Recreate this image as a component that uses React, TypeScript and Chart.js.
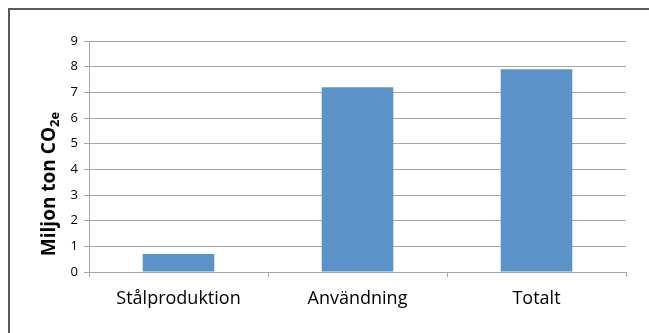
import React, { useEffect, useRef } from "react";
import { Chart, registerables } from "chart.js";

Chart.register(...registerables);

const categories = ["Stålproduktion", "Användning", "Totalt"];
const values = [0.7, 7.2, 7.9];
const yTicks = [0, 1, 2, 3, 4, 5, 6, 7, 8, 9];
const yTitleMain = "Miljon ton CO";
const yTitleSub = "2e";

const FONT = "'Open Sans', 'Noto Sans', sans-serif";

const framePlugin = {
  id: "frame",
  beforeDraw(chart: any) {
    const ctx = chart.ctx;
    ctx.save();
    ctx.fillStyle = "#ffffff";
    ctx.fillRect(0, 0, chart.width, chart.height);
    ctx.strokeStyle = "#5a5a5a";
    ctx.lineWidth = 2;
    ctx.beginPath();
    ctx.moveTo(9, chart.height);
    ctx.lineTo(9, 9);
    ctx.lineTo(chart.width, 9);
    ctx.stroke();
    ctx.restore();
  },
  afterDraw(chart: any) {
    const ctx = chart.ctx;
    ctx.save();
    ctx.translate(55, 184);
    ctx.rotate(-Math.PI / 2);
    ctx.fillStyle = "#000000";
    ctx.textBaseline = "alphabetic";
    const mainFont = "bold 19px " + FONT;
    const subFont = "bold 13px " + FONT;
    ctx.font = mainFont;
    const w1 = ctx.measureText(yTitleMain).width;
    ctx.font = subFont;
    const w2 = ctx.measureText(yTitleSub).width;
    const total = w1 + w2;
    const x0 = -total / 2;
    ctx.font = mainFont;
    ctx.fillText(yTitleMain, x0, 0);
    ctx.font = subFont;
    ctx.fillText(yTitleSub, x0 + w1, 4);
    ctx.restore();
  },
};

export default function App() {
  const ref = useRef<HTMLCanvasElement | null>(null);
  useEffect(() => {
    if (!ref.current) return;
    const chart = new Chart(ref.current, {
      type: "bar",
      data: {
        labels: categories,
        datasets: [
          {
            data: values,
            backgroundColor: "#5b93c9",
            borderWidth: 0,
            categoryPercentage: 1,
            barPercentage: 0.4,
          },
        ],
      },
      options: {
        animation: false,
        responsive: false,
        layout: { padding: { left: 0, right: 23, top: 41, bottom: 0 } },
        plugins: { legend: { display: false }, tooltip: { enabled: false } },
        scales: {
          x: {
            offset: true,
            grid: {
              display: true,
              offset: true,
              drawOnChartArea: false,
              drawTicks: true,
              tickLength: 5,
              color: "#a6a6a6",
            },
            border: { color: "#a6a6a6", width: 1 },
            ticks: {
              color: "#000000",
              font: { family: FONT, size: 18 },
              padding: 11,
            },
            afterFit(scale: any) {
              scale.height = 61;
            },
          },
          y: {
            min: 0,
            max: 9,
            afterBuildTicks(scale: any) {
              scale.ticks = yTicks.map((v) => ({ value: v }));
            },
            grid: {
              color: "#a6a6a6",
              tickLength: 5,
              drawTicks: true,
            },
            border: { color: "#a6a6a6", width: 1 },
            ticks: {
              color: "#000000",
              font: { family: FONT, size: 13 },
              padding: 6,
            },
            afterFit(scale: any) {
              scale.width = 89;
            },
          },
        },
      },
      plugins: [framePlugin],
    });
    return () => chart.destroy();
  }, []);
  return (
    <div style={{ position: "fixed", left: 0, top: 0, width: 649, height: 333, background: "#fff" }}>
      <canvas ref={ref} width={649} height={333} style={{ display: "block" }} />
    </div>
  );
}
